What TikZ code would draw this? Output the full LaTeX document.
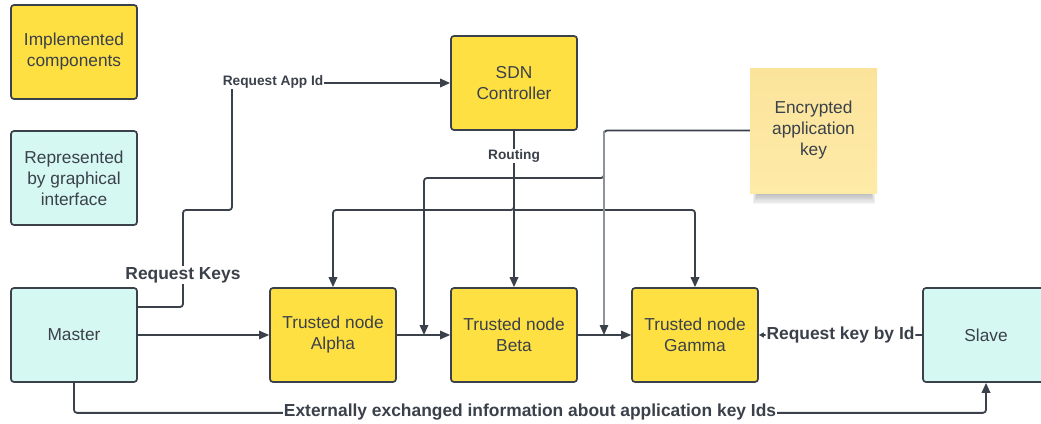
\documentclass[tikz,border=0pt]{standalone}
\usepackage{fontspec}
\setmainfont{Liberation Sans}
\usetikzlibrary{arrows.meta,shadows,calc}
\definecolor{ink}{HTML}{3A414A}
\definecolor{impl}{HTML}{FFE043}
\definecolor{gui}{HTML}{D6F8F3}
\definecolor{stickytop}{HTML}{FBE39B}
\definecolor{stickybot}{HTML}{FEEBA8}
\definecolor{thinline}{HTML}{8E939A}
\begin{document}
\begin{tikzpicture}[x=1pt,y=-1pt,
  box/.style={draw=ink, line width=1.7pt, rounded corners=3pt, minimum width=126pt, minimum height=94pt, align=center, font=\fontsize{17.3}{21}\selectfont, text=ink, inner sep=0pt},
  implbox/.style={box, fill=impl},
  guibox/.style={box, fill=gui},
  sticky/.style={minimum width=127pt, minimum height=125pt, align=center, inner sep=0pt, text=ink, font=\fontsize{17.3}{21}\selectfont, top color=stickytop, bottom color=stickybot},
  conn/.style={draw=ink, line width=1.8pt, rounded corners=3pt},
  flow/.style={draw=ink, line width=1.2pt},
  faint/.style={draw=thinline, line width=1.2pt},
  arr/.style={-{Triangle[length=10pt,width=8.5pt,fill=ink,color=ink]}},
  smallarr/.style={-{Triangle[length=5pt,width=5pt]}},
  lbl/.style={fill=white, text=ink, font=\bfseries\fontsize{17.4}{20}\selectfont, inner sep=1pt},
  slbl/.style={fill=white, text=ink, font=\bfseries\fontsize{13.7}{16}\selectfont, inner sep=1pt},
]
\useasboundingbox (0,0) rectangle (1041,423);
\clip (0,0) rectangle (1041,423);

% legend
\node[implbox] (impl) at (74,52) {Implemented\\components};
\node[guibox] (repr) at (74,178) {Represented\\by graphical\\interface};

% main nodes
\node[guibox] (master) at (74,335) {Master};
\node[implbox] (alpha) at (333,335) {Trusted node\\Alpha};
\node[implbox] (beta) at (514,335) {Trusted node\\Beta};
\node[implbox] (gamma) at (695,335) {Trusted node\\Gamma};
\node[guibox] (slave) at (986,335) {Slave};
\node[implbox] (sdn) at (514,83) {SDN\\Controller};

% sticky note shadow (soft)
\foreach \i in {0,1,...,7}{
  \fill[black, opacity=0.035] (757-\i*0.6,150) rectangle (871+\i*0.6,195+\i*1.3);
}
\node[sticky] (enc) at (813.5,130.5) {Encrypted\\application\\key};

% junction coordinates
\coordinate (rj) at (514,210);
\coordinate (ab) at (424,335);
\coordinate (bg) at (604,335);

% chain
\draw[flow,arr] (master.east) -- (alpha.west);
\draw[flow,arr] (alpha.east) -- (beta.west);
\draw[flow,arr] (beta.east) -- (gamma.west);

% request keys / app id
\draw[conn,arr] ([yshift=28pt]master.east) -| (183,210) -| (232,83) -- (sdn.west);
\node[lbl] (rk) at (183,275) {Request Keys};
\node[slbl] (rai) at (273,82) {Request App Id};

% routing
\draw[conn,arr] (sdn.south) -- (rj) -| (alpha.north);
\draw[conn,arr] (rj) -| (gamma.north);
\draw[conn,arr] (sdn.south) -- (beta.north);
\node[slbl] (rt) at (514,156) {Routing};

% encrypted key
\draw[conn,arr] (enc.west) -| (604,178) -| (ab);
\draw[faint,arr] (604,131) -- (bg);

% slave request
\draw[conn,smallarr] (slave.west) -- (gamma.east) node[midway,lbl] (rkid) {Request key by Id};

% external exchange
\draw[conn,arr] (master.south) -- ++(0,30) -| (slave.south);
\node[lbl] (ext) at (530,412) {Externally exchanged information about application key Ids};
\end{tikzpicture}
\end{document}
